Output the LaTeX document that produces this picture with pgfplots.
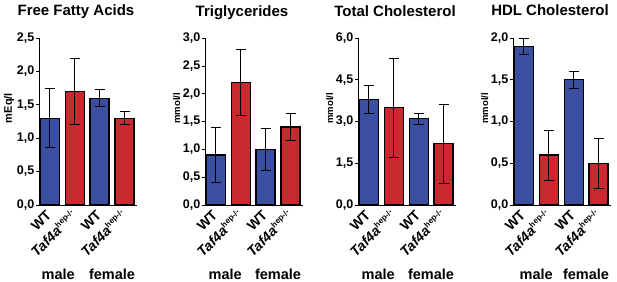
\documentclass[border=0pt]{standalone}
\usepackage{fontspec}
\setmainfont{Liberation Sans}
\usepackage{pgfplots}
\pgfplotsset{compat=1.18}
\definecolor{wtblue}{RGB}{58,79,160}
\definecolor{kored}{RGB}{200,40,46}
\tikzset{sexlabel/.style={font=\bfseries\fontsize{14.5}{15}\selectfont, anchor=base, yshift=-74pt}}
\newcommand{\ko}{\textit{Taf4a}\raisebox{0.75ex}{\fontsize{8}{9}\selectfont hep-/-}}
\pgfplotsset{
 lipid/.style={
  scale only axis, width=98pt, height=167pt,
  xmin=-0.43, xmax=3.5, ymin=0,
  axis x line*=bottom, axis y line*=left,
  axis line style={black, line width=0.6pt},
  xtick={0,1,2,3},
  xticklabels={WT, \ko, WT, \ko},
  xticklabel shift=4pt,
  x tick label style={rotate=45, anchor=east, font=\bfseries\fontsize{14}{15}\selectfont, inner sep=1pt},
  major x tick style={draw=none},
  extra x ticks={0.5,1.5,2.5,3.5}, extra x tick labels={},
  extra x tick style={tick align=inside, major tick style={draw=black, line width=0.6pt}},
  tick align=outside, major tick length=3pt,
  major tick style={black, line width=0.6pt},
  y tick label style={font=\bfseries\fontsize{12.5}{13}\selectfont, inner sep=1.5pt},
  ylabel style={font=\bfseries\fontsize{9.5}{10}\selectfont, at={(ticklabel cs:0.58)}, inner sep=1pt},
  title style={at={(0.5,1)}, anchor=base, yshift=16pt, xshift=-12pt, font=\bfseries\fontsize{15}{16}\selectfont},
  ybar, bar width=19pt, bar shift=0pt,
  every axis plot/.append style={draw=black, line width=1.2pt},
  error bars/y dir=both, error bars/y explicit,
  error bars/error bar style={black, line width=0.7pt},
  error bars/error mark options={black, line width=0.7pt, mark size=5pt, rotate=90},
  clip=false,
 },
}
\begin{document}
\begin{tikzpicture}
\path[use as bounding box] (0,0) rectangle (617pt,281pt);
% Free Fatty Acids
\begin{axis}[lipid, at={(39pt,76pt)}, anchor=south west,
  title={Free Fatty Acids}, ylabel={mEq/l},
  ylabel style={font=\bfseries\fontsize{11}{12}\selectfont},
  ymax=2.5, ytick={0,0.5,1,1.5,2,2.5},
  yticklabels={{0,0},{0,5},{1,0},{1,5},{2,0},{2,5}}]
\addplot[fill=wtblue] coordinates {(0,1.3) +- (0,0.44) (2,1.6) +- (0,0.13)};
\addplot[fill=kored] coordinates {(1,1.7) +- (0,0.49) (3,1.3) +- (0,0.10)};
\node[sexlabel, xshift=-4pt] at (axis cs:0.5,0) {male};
\node[sexlabel] at (axis cs:2.5,0) {female};
\end{axis}
% Triglycerides
\begin{axis}[lipid, at={(205pt,76pt)}, anchor=south west,
  title={Triglycerides}, ylabel={mmol/l},
  ymax=3, ytick={0,0.5,1,1.5,2,2.5,3},
  yticklabels={{0,0},{0,5},{1,0},{1,5},{2,0},{2,5},{3,0}}]
\addplot[fill=wtblue] coordinates {(0,0.9) +- (0,0.5) (2,1.0) +- (0,0.375)};
\addplot[fill=kored] coordinates {(1,2.2) +- (0,0.59) (3,1.4) +- (0,0.24)};
\node[sexlabel, xshift=-3pt] at (axis cs:0.5,0) {male};
\node[sexlabel] at (axis cs:2.5,0) {female};
\end{axis}
% Total Cholesterol
\begin{axis}[lipid, at={(358pt,76pt)}, anchor=south west,
  title={Total Cholesterol}, ylabel={mmol/l},
  ymax=6, ytick={0,1.5,3,4.5,6},
  yticklabels={{0,0},{1,5},{3,0},{4,5},{6,0}}]
\addplot[fill=wtblue] coordinates {(0,3.8) +- (0,0.5) (2,3.1) +- (0,0.2)};
\addplot[fill=kored] coordinates {(1,3.5) +- (0,1.78) (3,2.2) +- (0,1.43)};
\node[sexlabel, xshift=-3pt] at (axis cs:0.5,0) {male};
\node[sexlabel] at (axis cs:2.5,0) {female};
\end{axis}
% HDL Cholesterol
\begin{axis}[lipid, at={(513pt,76pt)}, anchor=south west,
  title={HDL Cholesterol}, ylabel={mmol/l},
  ymax=2, ytick={0,0.5,1,1.5,2},
  yticklabels={{0,0},{0,5},{1,0},{1,5},{2,0}}]
\addplot[fill=wtblue] coordinates {(0,1.9) +- (0,0.1) (2,1.5) +- (0,0.1)};
\addplot[fill=kored] coordinates {(1,0.6) +- (0,0.3) (3,0.5) +- (0,0.3)};
\node[sexlabel] at (axis cs:0.5,0) {male};
\node[sexlabel] at (axis cs:2.5,0) {female};
\end{axis}
\end{tikzpicture}
\end{document}
